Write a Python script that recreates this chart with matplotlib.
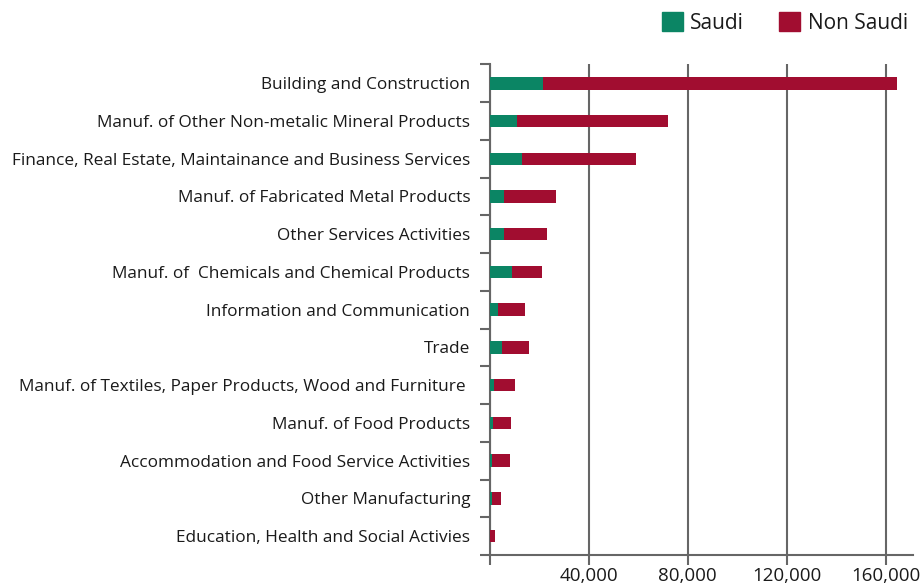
import numpy as np
import matplotlib
matplotlib.use("Agg")
import matplotlib.pyplot as plt
from matplotlib.patches import Patch

plt.rcParams['font.family'] = ['Open Sans', 'DejaVu Sans']

# donnees (du haut vers le bas)
categories = [
    "Building and Construction",
    "Manuf. of Other Non-metalic Mineral Products",
    "Finance, Real Estate, Maintainance and Business Services",
    "Manuf. of Fabricated Metal Products",
    "Other Services Activities",
    "Manuf. of  Chemicals and Chemical Products",
    "Information and Communication",
    "Trade",
    "Manuf. of Textiles, Paper Products, Wood and Furniture ",
    "Manuf. of Food Products",
    "Accommodation and Food Service Activities",
    "Other Manufacturing",
    "Education, Health and Social Activies",
]
saudi = [21700, 11000, 13300, 5900, 5900, 9200, 3400, 5100, 1800, 1300, 900, 800, 300]
non_saudi = [143100, 61200, 45900, 21100, 17200, 12000, 10900, 10700, 8600, 7400, 7250, 3850, 2050]
xticks = [0, 40000, 80000, 120000, 160000]
xlabels = ["", "40,000", "80,000", "120,000", "160,000"]

vert = "#0b8564"
rouge = "#a10d30"
gris = "#666666"
texte = "#1a1a1a"

fig = plt.figure(figsize=(9.22, 5.84), dpi=100)
ax = fig.add_axes([0.531, 0.0497, 0.459, 0.840])

y = np.arange(len(categories))
ax.barh(y, saudi, height=0.33, color=vert, zorder=3)
ax.barh(y, non_saudi, left=saudi, height=0.33, color=rouge, zorder=3)

ax.set_ylim(len(categories) - 0.5, -0.5)
ax.set_xlim(0, 171000)

ax.set_yticks(y)
ax.set_yticklabels(categories, fontsize=12.4, color=texte)
ax.set_yticks(np.arange(-0.5, len(categories), 1), minor=True)
ax.tick_params(axis='y', which='major', length=0, pad=14)
ax.tick_params(axis='y', which='minor', length=7, width=1.5, color=gris)

ax.set_xticks(xticks)
ax.set_xticklabels(xlabels, fontsize=13.5, color=texte)
ax.tick_params(axis='x', length=7, width=1.5, color=gris, pad=2)
ax.grid(axis='x', color=gris, linewidth=1.5, zorder=1)

for s in ['top', 'right']:
    ax.spines[s].set_visible(False)
for s in ['left', 'bottom']:
    ax.spines[s].set_color(gris)
    ax.spines[s].set_linewidth(1.5)

handles = [Patch(color=vert, label="Saudi"), Patch(color=rouge, label="Non Saudi")]
fig.legend(handles=handles, loc='upper right', bbox_to_anchor=(0.998, 1.0), ncol=2,
           frameon=False, fontsize=15, handlelength=1.0, handleheight=1.0,
           handletextpad=0.35, columnspacing=1.7, borderaxespad=0.2,
           labelcolor=texte)

fig.savefig("out.png", dpi=100)
